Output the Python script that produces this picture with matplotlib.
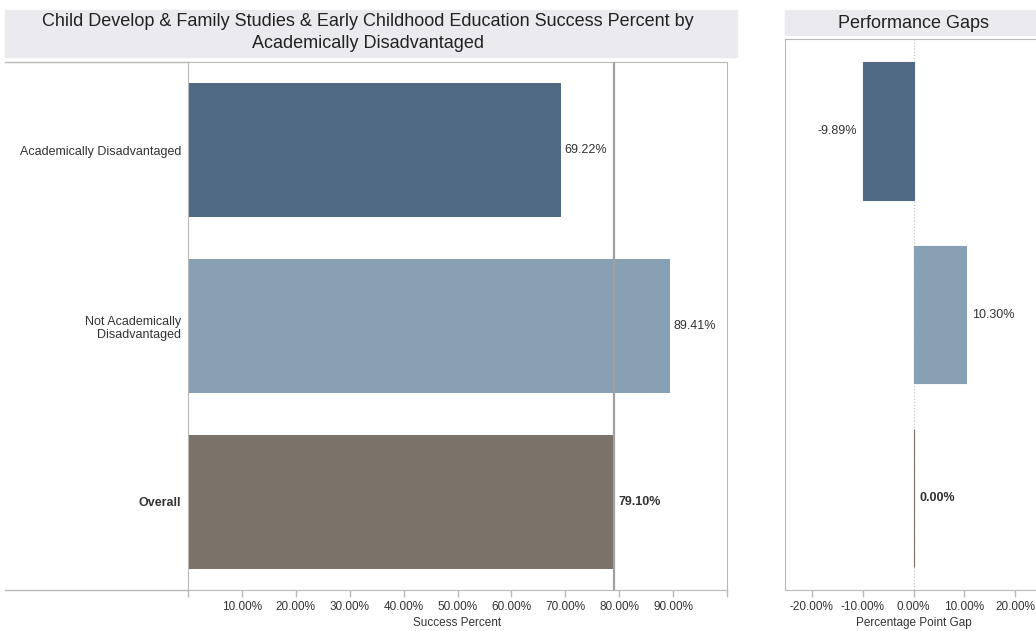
import matplotlib
matplotlib.use("Agg")
import matplotlib.pyplot as plt
from matplotlib.patches import Rectangle
from matplotlib.lines import Line2D

# data
categories = ["Academically Disadvantaged", "Not Academically\nDisadvantaged", "Overall"]
success_pct = [69.22, 89.41, 79.10]
gap_pct = [-9.89, 10.30, 0.00]
overall_ref = 79.10
success_ticks = [10, 20, 30, 40, 50, 60, 70, 80, 90]
gap_ticks = [-20, -10, 0, 10, 20]

colors = ["#4f6a82", "#87a0b4", "#7b7369"]
text_c = "#333333"
grid_c = "#b8b8b8"
title_bg = "#ebebef"

plt.rcParams.update({
    "font.family": ["Liberation Sans", "DejaVu Sans"],
    "font.size": 8.5,
    "axes.edgecolor": grid_c,
    "xtick.color": grid_c,
    "xtick.labelcolor": text_c,
    "ytick.labelcolor": text_c,
})

W, H = 1036, 631
fig = plt.figure(figsize=(W / 100, H / 100), dpi=100)


def fx(px):
    return px / W


def fy(py):
    return 1 - py / H


def box(x0, y0, x1, y1):
    return [fx(x0), fy(y1), fx(x1) - fx(x0), fy(y0) - fy(y1)]


# title panels
fig.patches.append(Rectangle((fx(5), fy(57)), fx(737) - fx(5), fy(10) - fy(57),
                             transform=fig.transFigure, color=title_bg, zorder=0))
fig.text(fx(368), fy(22), "Child Develop & Family Studies & Early Childhood Education Success Percent by",
         ha="center", va="center", fontsize=13, color="#222222")
fig.text(fx(368), fy(44), "Academically Disadvantaged",
         ha="center", va="center", fontsize=13, color="#222222")
fig.patches.append(Rectangle((fx(785), fy(35)), fx(1040) - fx(785), fy(10) - fy(35),
                             transform=fig.transFigure, color=title_bg, zorder=0))
fig.text(fx(914), fy(23), "Performance Gaps", ha="center", va="center",
         fontsize=13, color="#222222")

# lines framing the label column on the left
for yy in (62, 590):
    fig.lines.append(Line2D([fx(5), fx(188)], [fy(yy), fy(yy)],
                            transform=fig.transFigure, color=grid_c, lw=1))

# --- main chart ---
ax = fig.add_axes(box(188, 62, 727, 590))
ypos = list(range(len(categories)))
ax.barh(ypos, success_pct, height=0.76, color=colors, zorder=2)
ax.axvline(overall_ref, color="#a0a0a0", lw=1.6, zorder=3)
for i, v in enumerate(success_pct):
    ax.text(v + 0.7, i, f"{v:.2f}%", va="center", ha="left", color=text_c,
            fontsize=9, fontweight="bold" if i == 2 else "normal")
ax.set_xlim(0, 100)
ax.set_ylim(len(categories) - 0.5, -0.5)
ax.set_yticks(ypos)
ax.set_yticklabels(categories, ha="right", fontsize=9)
ax.get_yticklabels()[2].set_fontweight("bold")
ax.tick_params(axis="y", length=0, pad=5)
ax.set_xticks([0] + success_ticks + [100])
ax.set_xticklabels([""] + [f"{t:.2f}%" for t in success_ticks] + [""])
ax.tick_params(axis="x", length=5, width=1, pad=3)
ax.set_xlabel("Success Percent", color=text_c, fontsize=8.5, labelpad=3)
for s in ax.spines.values():
    s.set_color(grid_c)

# --- gap chart ---
ax2 = fig.add_axes(box(785, 39, 1042, 590))
gpos = list(range(len(gap_pct)))
ax2.barh(gpos, gap_pct, height=0.75, color=colors, edgecolor=colors, lw=0.8, zorder=2)
ax2.axvline(0, color="#c8c8c8", lw=0.9, ls=(0, (1, 1.5)), zorder=1)
for i, v in enumerate(gap_pct):
    if v < 0:
        ax2.text(v - 1.2, i, f"{v:.2f}%", va="center", ha="right", color=text_c, fontsize=9)
    else:
        ax2.text(v + 1.2, i, f"{v:.2f}%", va="center", ha="left", color=text_c,
                 fontsize=9, fontweight="bold" if i == 2 else "normal")
ax2.set_xlim(-25.2, 25.2)
ax2.set_ylim(len(gap_pct) - 0.5, -0.5)
ax2.set_yticks([])
ax2.set_xticks(gap_ticks)
ax2.set_xticklabels([f"{t:.2f}%" for t in gap_ticks])
ax2.tick_params(axis="x", length=5, width=1, pad=3)
ax2.set_xlabel("Percentage Point Gap", color=text_c, fontsize=8.5, labelpad=3)
for s in ax2.spines.values():
    s.set_color(grid_c)

fig.savefig("out.png", dpi=100)
